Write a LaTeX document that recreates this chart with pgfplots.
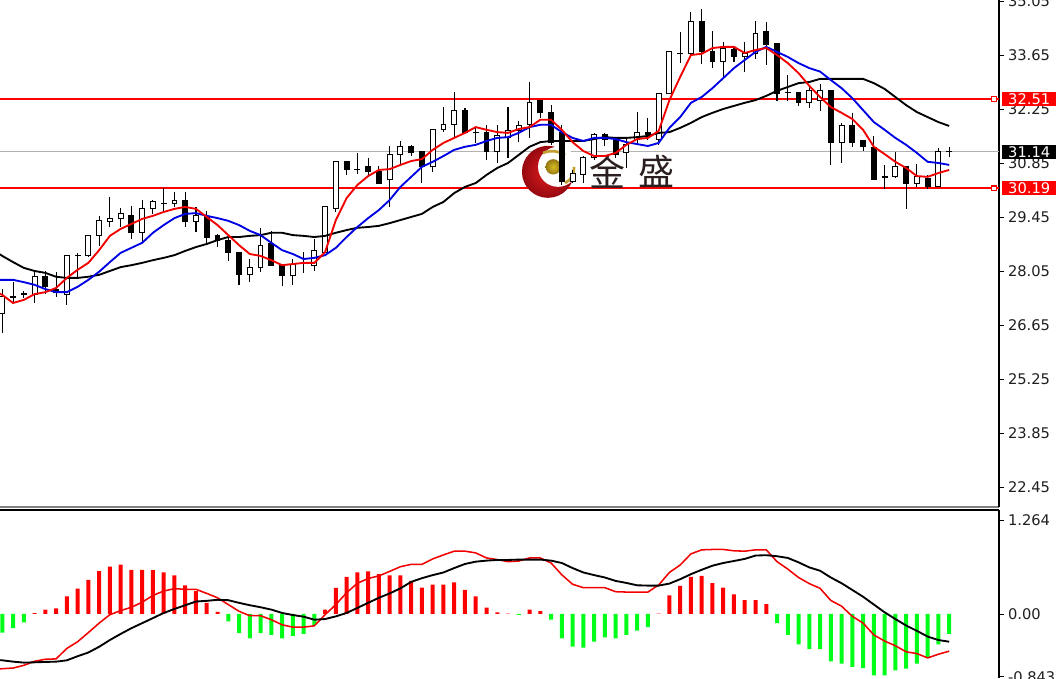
\documentclass[border=0pt]{standalone}
\usepackage{fontspec}
\usepackage{pgfplots}
\usepackage{pgfplotstable}
\pgfplotsset{compat=1.18}
\setmainfont{DejaVu Sans}
\newfontfamily\cjk{Noto Sans CJK SC}

% i open close high low
\pgfplotstableread{
i open close high low
0 26.96 27.38 27.59 26.44
3 27.45 27.90 28.03 27.22
6 27.45 28.46 28.46 27.17
8 28.44 28.96 28.98 28.41
9 28.98 29.35 29.48 28.70
10 29.32 29.42 29.97 29.19
11 29.42 29.53 29.68 29.19
13 29.06 29.66 29.89 28.80
14 29.68 29.84 29.89 29.53
16 29.79 29.89 30.10 29.71
18 29.32 29.50 29.71 29.06
23 27.97 28.15 28.36 27.76
24 28.15 28.70 29.17 28.03
27 27.92 28.23 28.36 27.69
29 28.20 28.59 28.88 28.05
30 28.54 29.71 29.71 28.54
31 29.68 30.88 30.88 29.58
36 30.41 31.08 31.29 29.71
37 31.08 31.27 31.42 30.82
40 30.75 31.73 31.73 30.62
41 31.71 31.86 32.30 31.65
42 31.86 32.20 32.69 31.52
46 31.14 31.55 31.84 30.85
47 31.52 31.68 32.30 30.98
48 31.68 31.81 31.94 31.39
49 31.86 32.43 32.95 31.50
53 30.38 30.59 30.67 30.33
54 30.56 30.98 31.03 30.33
55 31.00 31.60 31.63 30.93
58 31.11 31.34 31.52 30.72
59 31.47 31.63 32.17 31.32
61 31.47 32.64 32.67 31.32
62 32.64 33.73 33.73 32.64
64 33.68 34.53 34.76 33.57
67 33.49 33.81 33.99 33.08
69 33.60 33.68 33.99 33.21
70 33.68 34.22 34.53 33.55
75 32.43 32.74 32.85 32.28
76 32.48 32.72 32.90 32.20
78 31.39 31.81 31.89 30.85
83 30.49 30.77 31.14 30.46
85 30.33 30.49 30.82 30.23
87 30.25 31.16 31.24 30.23
}\upcandles

% falling candles and the flat crosses
\pgfplotstableread{
i open close high low
1 27.40 27.36 27.77 27.22
2 27.46 27.44 27.53 27.35
4 27.90 27.64 28.05 27.45
5 27.56 27.48 28.03 27.38
7 28.46 28.45 28.52 27.87
12 29.50 29.06 29.74 28.88
15 29.81 29.80 30.20 29.58
17 29.87 29.32 30.10 29.19
19 29.45 28.93 29.60 28.78
20 28.96 28.83 29.01 28.67
21 28.83 28.54 28.96 28.31
22 28.54 27.97 28.54 27.69
25 28.75 28.20 29.09 28.18
26 28.20 27.92 28.20 27.66
28 28.28 28.26 28.54 28.00
32 30.88 30.69 30.90 30.54
33 30.69 30.68 31.11 30.56
34 30.75 30.64 30.98 30.54
35 30.64 30.33 30.77 30.31
38 31.27 31.11 31.32 31.03
39 31.16 30.75 31.16 30.33
43 32.20 31.65 32.28 31.63
44 31.65 31.63 31.78 31.37
45 31.63 31.14 31.84 30.93
50 32.48 32.15 32.48 32.02
51 32.17 31.39 32.35 31.32
52 31.63 30.36 31.84 30.28
56 31.60 31.47 31.63 31.29
57 31.47 31.06 31.52 30.98
60 31.63 31.60 32.02 31.45
63 33.70 33.69 34.25 33.44
65 34.53 33.75 34.84 33.42
66 33.75 33.47 34.27 33.31
68 33.78 33.62 33.88 33.47
71 34.25 33.91 34.51 33.39
72 33.96 32.66 33.96 32.46
73 32.69 32.68 33.13 32.46
74 32.69 32.43 32.69 32.33
77 32.74 31.39 32.74 30.80
79 31.81 31.39 32.15 31.27
80 31.42 31.29 31.42 31.16
81 31.24 30.43 31.55 30.41
82 30.49 30.48 30.80 30.18
84 30.77 30.33 30.77 29.66
86 30.46 30.23 30.54 30.18
88 31.15 31.14 31.27 31.00
}\downcandles

\pgfplotstableread{
i red blue black
-1 27.55 27.82 28.62
0 27.43 27.82 28.44
1 27.22 27.82 28.28
2 27.30 27.76 28.13
3 27.45 27.69 28.05
4 27.50 27.58 28.00
5 27.61 27.50 27.90
6 27.87 27.50 27.87
7 28.08 27.64 27.87
8 28.26 27.82 27.90
9 28.59 28.03 27.95
10 28.96 28.28 28.05
11 29.14 28.52 28.15
12 29.27 28.65 28.20
13 29.40 28.78 28.26
14 29.48 29.04 28.33
15 29.58 29.24 28.39
16 29.66 29.42 28.46
17 29.71 29.53 28.57
18 29.66 29.55 28.67
19 29.45 29.48 28.75
20 29.24 29.42 28.85
21 28.98 29.35 28.93
22 28.72 29.24 28.93
23 28.49 29.09 28.96
24 28.44 28.98 28.98
25 28.33 28.78 29.04
26 28.20 28.59 29.04
27 28.23 28.49 28.98
28 28.26 28.36 28.96
29 28.26 28.39 28.93
30 28.54 28.46 28.96
31 29.37 28.65 29.04
32 29.94 28.93 29.11
33 30.28 29.19 29.17
34 30.51 29.42 29.19
35 30.67 29.63 29.22
36 30.69 29.89 29.29
37 30.80 30.23 29.37
38 30.90 30.49 29.45
39 30.95 30.75 29.53
40 31.19 30.88 29.71
41 31.37 31.03 29.84
42 31.50 31.19 30.07
43 31.63 31.27 30.23
44 31.78 31.32 30.33
45 31.71 31.42 30.54
46 31.65 31.50 30.72
47 31.63 31.52 30.85
48 31.73 31.63 31.06
49 31.78 31.78 31.27
50 31.97 31.84 31.39
51 31.97 31.84 31.42
52 31.71 31.65 31.42
53 31.39 31.50 31.42
54 31.16 31.42 31.42
55 31.03 31.50 31.47
56 31.03 31.50 31.52
57 31.11 31.47 31.50
58 31.32 31.39 31.50
59 31.47 31.34 31.52
60 31.50 31.29 31.55
61 31.68 31.37 31.63
62 32.48 31.76 31.65
63 33.08 32.04 31.76
64 33.65 32.41 31.89
65 33.68 32.56 32.04
66 33.83 32.79 32.15
67 33.86 33.05 32.25
68 33.86 33.31 32.33
69 33.70 33.52 32.41
70 33.78 33.73 32.48
71 33.83 33.86 32.59
72 33.65 33.73 32.72
73 33.44 33.60 32.82
74 33.18 33.44 32.92
75 32.85 33.31 32.95
76 32.56 33.22 33.03
77 32.30 33.00 33.03
78 32.15 32.79 33.03
79 31.99 32.53 33.03
80 31.71 32.22 33.03
81 31.27 31.91 32.92
82 31.08 31.71 32.77
83 30.88 31.50 32.56
84 30.72 31.32 32.35
85 30.51 31.11 32.17
86 30.49 30.88 32.04
87 30.59 30.85 31.91
88 30.67 30.80 31.81
}\averages

\pgfplotstableread{
i red black
-1 -0.745 -0.615
0 -0.736 -0.623
1 -0.727 -0.641
2 -0.691 -0.654
3 -0.636 -0.650
4 -0.609 -0.645
5 -0.604 -0.641
6 -0.463 -0.623
7 -0.373 -0.568
8 -0.250 -0.518
9 -0.123 -0.441
10 -0.009 -0.350
11 0.045 -0.268
12 0.091 -0.191
13 0.159 -0.123
14 0.250 -0.055
15 0.309 0.014
16 0.341 0.068
17 0.332 0.118
18 0.332 0.168
19 0.277 0.177
20 0.218 0.191
21 0.127 0.186
22 0.036 0.150
23 -0.023 0.118
24 -0.023 0.091
25 -0.077 0.059
26 -0.145 0.014
27 -0.177 -0.014
28 -0.177 -0.036
29 -0.159 -0.077
30 -0.009 -0.068
31 0.127 -0.032
32 0.286 0.014
33 0.414 0.082
34 0.477 0.150
35 0.513 0.218
36 0.573 0.277
37 0.636 0.345
38 0.668 0.432
39 0.668 0.482
40 0.741 0.523
41 0.795 0.559
42 0.845 0.618
43 0.845 0.673
44 0.822 0.704
45 0.754 0.718
46 0.732 0.727
47 0.704 0.727
48 0.713 0.732
49 0.754 0.732
50 0.754 0.732
51 0.686 0.718
52 0.527 0.686
53 0.400 0.618
54 0.354 0.559
55 0.354 0.523
56 0.354 0.491
57 0.300 0.445
58 0.295 0.418
59 0.295 0.386
60 0.295 0.382
61 0.390 0.382
62 0.559 0.409
63 0.659 0.468
64 0.809 0.536
65 0.863 0.595
66 0.868 0.650
67 0.868 0.686
68 0.850 0.713
69 0.845 0.741
70 0.863 0.786
71 0.863 0.791
72 0.704 0.777
73 0.604 0.754
74 0.491 0.695
75 0.409 0.627
76 0.345 0.582
77 0.182 0.491
78 0.105 0.414
79 -0.032 0.323
80 -0.123 0.232
81 -0.282 0.127
82 -0.364 0.023
83 -0.427 -0.068
84 -0.509 -0.155
85 -0.532 -0.227
86 -0.591 -0.304
87 -0.541 -0.350
88 -0.500 -0.373
}\macdlines

\definecolor{histgreen}{RGB}{0,255,24}
\definecolor{logored}{RGB}{150,8,16}
\definecolor{logobright}{RGB}{225,30,30}
\definecolor{logogold}{RGB}{196,160,48}
\definecolor{logodeep}{RGB}{150,120,20}
\definecolor{labeltext}{RGB}{30,30,30}
\definecolor{logotext}{RGB}{42,30,30}

\pgfplotsset{
  panel/.style={
    scale only axis, width=749.25pt,
    xmin=-0.214, xmax=92.63,
    xtick=\empty,
    axis y line=right,
    every outer x axis line/.append style={-},
    every outer y axis line/.append style={-},
    every inner x axis line/.append style={-},
    every inner y axis line/.append style={-},
    axis line style={-},
    y axis line style={black, line width=0.8pt},
    tick align=outside,
    major tick length=3.75pt,
    ytick style={black, line width=0.6pt},
    yticklabel style={font=\fontsize{11pt}{12pt}\selectfont, text=labeltext, xshift=-0.5pt},
    clip mode=individual,
  },
  candle/.style 2 args={draw=none, mark=none, forget plot,
    error bars/.cd, y dir=plus, y explicit, error mark=none,
    error bar style={draw=#1, line width=#2}},
}
\tikzset{
  pricebox/.style={anchor=west, minimum width=40.5pt, minimum height=10.6pt, inner sep=0pt,
    text=white, font=\fontsize{11pt}{12pt}\selectfont},
  handle/.style={draw=red, fill=white, line width=0.9pt, minimum size=3.6pt, inner sep=0pt},
  logochar/.style={text=logotext, font=\cjk\fontsize{27pt}{30pt}\selectfont, inner sep=0pt},
}

\begin{document}
\begin{tikzpicture}
\path[use as bounding box] (0,0) rectangle (792pt,508.5pt);

\begin{axis}[panel, name=prices, at={(0pt,128.25pt)}, anchor=south west,
  height=380.25pt,
  ymin=21.93, ymax=35.076,
  axis x line=bottom,
  x axis line style={-, draw=gray, line width=1pt},
  ytick={35.05,33.65,32.25,30.85,29.45,28.05,26.65,25.25,23.85,22.45},
  yticklabels={35.05,33.65,32.25,30.85,29.45,28.05,26.65,25.25,23.85,22.45},
]
\addplot[gray!60, line width=0.7pt, forget plot] coordinates {(-0.214,31.14) (92.63,31.14)};
\addplot[red, line width=1.4pt, forget plot] coordinates {(-0.214,32.51) (92.63,32.51)};
\addplot[red, line width=1.4pt, forget plot] coordinates {(-0.214,30.19) (92.63,30.19)};

% logo sits under the candles
\node[circle, minimum size=39pt, inner sep=0pt, inner color=logobright, outer color=logored] at (axis cs:50.71,30.62) {};
\node[circle, minimum size=30pt, inner sep=0pt, fill=white] at (axis cs:51.65,30.75) {};
\node[circle, minimum size=11.5pt, inner sep=0pt, inner color=logogold!70!yellow, outer color=logodeep] at (axis cs:51.2,30.75) {};
\draw[logogold, line width=2pt] (axis cs:50.25,31.11) to[bend left=25] (axis cs:52.3,31.06);
\draw[logogold, line width=2pt] (axis cs:53.13,30.75) to[bend left=35] (axis cs:52.3,30.33);
\node[logochar] at (axis cs:56.2,30.62) {金};
\node[logochar] at (axis cs:60.8,30.62) {盛};

% wicks
\addplot[candle={black}{0.8pt}] table[x=i, y=low, y error plus expr=\thisrow{high}-\thisrow{low}] {\upcandles};
\addplot[candle={black}{0.8pt}] table[x=i, y=low, y error plus expr=\thisrow{high}-\thisrow{low}] {\downcandles};
% bodies
\addplot[candle={black}{4.4pt}]
  table[x=i, y expr=\thisrow{open}-0.013, y error plus expr=\thisrow{close}-\thisrow{open}+0.026] {\upcandles};
\addplot[candle={white}{2.9pt}]
  table[x=i, y expr=\thisrow{open}+0.013, y error plus expr=\thisrow{close}-\thisrow{open}-0.026] {\upcandles};
\addplot[candle={black}{4.4pt}]
  table[x=i, y expr=\thisrow{close}-0.013, y error plus expr=\thisrow{open}-\thisrow{close}+0.026] {\downcandles};

% moving averages
\addplot[black, line width=1.4pt, mark=none] table[x=i, y=black] {\averages};
\addplot[blue!90!black, line width=1.4pt, mark=none] table[x=i, y=blue] {\averages};
\addplot[red!95!black, line width=1.4pt, mark=none] table[x=i, y=red] {\averages};

\node[handle] at (axis cs:92.17,32.51) {};
\node[handle] at (axis cs:92.17,30.19) {};
\node[pricebox, fill=red] at (axis cs:92.9,32.51) {32.51};
\node[pricebox, fill=black] at (axis cs:92.9,31.14) {31.14};
\node[pricebox, fill=red] at (axis cs:92.9,30.19) {30.19};
\end{axis}

\begin{axis}[panel, name=macd, at={(0pt,0pt)}, anchor=south west,
  height=126pt,
  ymin=-0.861, ymax=1.399,
  axis x line=top,
  x axis line style={-, draw=black, line width=0.8pt},
  ytick={-0.843,0,1.264},
  yticklabels={-0.843,0.00,1.264},
]
\addplot[ybar, bar width=3pt, fill=red, draw=none, forget plot] coordinates {
(3,0.012) (4,0.059) (5,0.077) (6,0.236) (7,0.341) (8,0.459) (9,0.577) (10,0.636) (11,0.663)
(12,0.595) (13,0.595) (14,0.591) (15,0.559) (16,0.518) (17,0.386) (18,0.309) (19,0.150) (20,0.027)
(30,0.059) (31,0.350) (32,0.500) (33,0.559) (34,0.573) (35,0.536) (36,0.518) (37,0.518) (38,0.445)
(39,0.354) (40,0.395) (41,0.395) (42,0.427) (43,0.323) (44,0.236) (45,0.086) (46,0.023) (47,0.005)
(49,0.059) (50,0.040) (61,0.005)
(62,0.250) (63,0.377) (64,0.500) (65,0.513) (66,0.414) (67,0.354) (68,0.264) (69,0.186) (70,0.186) (71,0.132)
};
\addplot[ybar, bar width=3pt, fill=histgreen, draw=none, forget plot] coordinates {
(0,-0.250) (1,-0.190) (2,-0.114)
(21,-0.100) (22,-0.259) (23,-0.327) (24,-0.259) (25,-0.282) (26,-0.327) (27,-0.295) (28,-0.268) (29,-0.145)
(48,-0.012)
(51,-0.077) (52,-0.327) (53,-0.440) (54,-0.454) (55,-0.373) (56,-0.314) (57,-0.327) (58,-0.282) (59,-0.223) (60,-0.177)
(72,-0.123) (73,-0.282) (74,-0.409) (75,-0.473) (76,-0.473) (77,-0.636) (78,-0.668) (79,-0.713) (80,-0.727)
(81,-0.827) (82,-0.827) (83,-0.759) (84,-0.736) (85,-0.668) (86,-0.577) (87,-0.409) (88,-0.268)
};
\addplot[red!95!black, line width=1.15pt, mark=none] table[x=i, y=red] {\macdlines};
\addplot[black, line width=1.4pt, mark=none] table[x=i, y=black] {\macdlines};
\end{axis}
\end{tikzpicture}
\end{document}
